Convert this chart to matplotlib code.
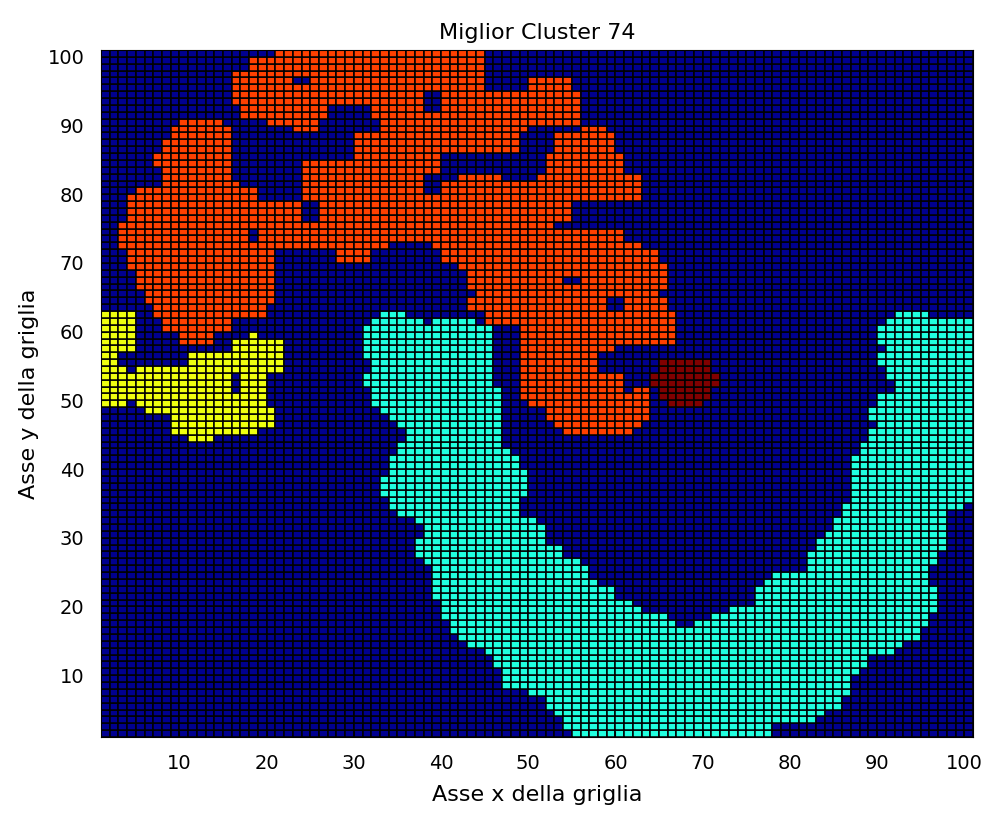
import numpy as np
import matplotlib
matplotlib.use("Agg")
import matplotlib.pyplot as plt
from matplotlib.colors import ListedColormap

plt.rcParams['font.family'] = ['DejaVu Sans']

# grid size and cluster colours (label 0 = background)
n_cells = 100
cluster_colors = ['#00008F', '#20FFDF', '#EFFF10', '#FF4000', '#800000']

# blocks of cells per cluster: (x0, x1, y0, y1) in grid coordinates
cyan_blocks = [
    (33, 36, 62, 63), (32, 38, 61, 62), (39, 44, 61, 62), (31, 46, 56, 61),
    (32, 46, 54, 56), (31, 46, 52, 54), (32, 47, 49, 52), (33, 47, 48, 49),
    (34, 47, 47, 48), (35, 47, 46, 47), (36, 47, 44, 46), (35, 47, 43, 44),
    (35, 48, 42, 43), (34, 49, 40, 42), (34, 50, 39, 40), (33, 50, 36, 39),
    (34, 49, 34, 36), (35, 49, 33, 34), (37, 51, 32, 33), (38, 52, 30, 32),
    (37, 52, 29, 30), (37, 54, 27, 29), (38, 56, 26, 27), (39, 57, 24, 26),
    (39, 58, 23, 24), (39, 60, 21, 23), (40, 62, 20, 21), (40, 63, 19, 20),
    (40, 66, 18, 19), (41, 67, 17, 18),
    (92, 96, 62, 63), (91, 101, 61, 62), (90, 101, 58, 61), (91, 101, 57, 58),
    (90, 101, 55, 57), (91, 101, 53, 55), (92, 101, 51, 53), (90, 101, 49, 51),
    (89, 101, 47, 49), (90, 101, 46, 47), (89, 101, 44, 46), (88, 101, 42, 44),
    (87, 101, 35, 42), (86, 100, 34, 35), (86, 98, 33, 34), (85, 98, 31, 33),
    (84, 98, 30, 31), (83, 98, 28, 30), (82, 97, 26, 28), (82, 96, 25, 26),
    (78, 96, 24, 25), (77, 96, 23, 24), (76, 97, 20, 23), (73, 97, 19, 20),
    (71, 96, 18, 19), (69, 96, 17, 18),
    (41, 95, 16, 17), (42, 95, 15, 16), (43, 93, 14, 15), (45, 92, 13, 14),
    (46, 89, 11, 13), (47, 88, 10, 11), (47, 87, 8, 10), (50, 87, 7, 8),
    (52, 86, 5, 7), (53, 84, 4, 5), (54, 83, 3, 4), (54, 78, 2, 3),
    (55, 78, 1, 2),
]

yellow_blocks = [
    (1, 5, 57, 63), (18, 19, 59, 60), (16, 22, 57, 59), (1, 3, 55, 57),
    (11, 22, 55, 57), (1, 4, 54, 55), (5, 22, 54, 55), (1, 20, 49, 54),
    (6, 21, 48, 49), (9, 21, 46, 48), (9, 19, 45, 46), (11, 14, 44, 45),
]
yellow_holes = [(16, 17, 51, 54), (4, 5, 49, 50)]

orange_blocks = [
    (21, 45, 100, 101), (18, 45, 98, 100), (16, 45, 95, 98), (50, 55, 95, 97),
    (16, 56, 93, 95), (17, 27, 91, 93), (32, 56, 91, 93), (20, 26, 90, 91),
    (33, 56, 90, 91), (23, 26, 89, 90), (33, 50, 89, 90), (56, 59, 89, 90),
    (30, 49, 86, 89), (53, 60, 86, 89), (30, 40, 85, 86), (52, 61, 85, 86),
    (24, 40, 83, 85), (52, 61, 83, 85), (24, 38, 82, 83), (42, 47, 82, 83),
    (51, 63, 82, 83), (24, 63, 79, 82), (19, 24, 76, 79), (26, 55, 76, 79),
    (3, 53, 75, 76), (3, 61, 73, 75), (3, 34, 72, 73), (39, 63, 72, 73),
    (4, 21, 70, 72), (28, 32, 70, 72), (40, 65, 70, 72), (4, 21, 69, 70),
    (42, 66, 69, 70), (5, 21, 66, 69), (43, 66, 66, 69), (6, 21, 64, 66),
    (44, 65, 65, 66), (43, 59, 63, 65), (61, 66, 63, 65), (7, 20, 62, 64),
    (45, 67, 61, 63), (8, 16, 60, 62), (10, 14, 58, 60), (49, 67, 58, 61),
    (49, 60, 57, 58), (49, 58, 54, 57), (49, 61, 51, 54), (62, 64, 47, 52),
    (49, 63, 50, 51), (50, 64, 49, 50), (52, 64, 47, 49), (53, 63, 46, 47),
    (54, 62, 45, 46),
    (10, 15, 90, 91), (9, 16, 88, 90), (8, 16, 86, 88), (7, 16, 84, 86),
    (8, 16, 82, 84), (8, 17, 81, 82), (5, 19, 80, 81), (4, 19, 76, 80),
]
orange_holes = [(23, 25, 96, 97), (38, 40, 92, 95), (38, 40, 80, 82),
                (18, 19, 73, 75), (54, 56, 67, 68)]

darkred_blocks = [(66, 70, 49, 50), (65, 71, 50, 52), (64, 72, 52, 54),
                  (65, 71, 54, 56)]


def paint(grid, blocks, label):
    for x0, x1, y0, y1 in blocks:
        grid[y0 - 1:y1 - 1, x0 - 1:x1 - 1] = label


grid = np.zeros((n_cells, n_cells), dtype=int)
paint(grid, cyan_blocks, 1)
paint(grid, yellow_blocks, 2)
paint(grid, yellow_holes, 0)
paint(grid, orange_blocks, 3)
paint(grid, orange_holes, 0)
paint(grid, darkred_blocks, 4)

edges = np.arange(1, n_cells + 2)

fig = plt.figure(figsize=(9.85, 8.13), dpi=100)
ax = fig.add_axes([0.1025, 0.0935, 0.8853, 0.845])
ax.pcolormesh(edges, edges, grid, cmap=ListedColormap(cluster_colors),
              vmin=-0.5, vmax=4.5, edgecolors='k', linewidth=1.1,
              antialiased=True)
ax.set_xlim(1, 101)
ax.set_ylim(1, 101)
ax.set_xticks(range(10, 101, 10))
ax.set_yticks(range(10, 101, 10))
ax.tick_params(direction='in', length=4, labelsize=14, pad=12)
for s in ax.spines.values():
    s.set_linewidth(0.8)
ax.set_title('Miglior Cluster 74', fontsize=16, pad=8)
ax.set_xlabel('Asse x della griglia', fontsize=16, labelpad=9)
ax.set_ylabel('Asse y della griglia', fontsize=16, labelpad=6)

fig.savefig('out.png', dpi=100)
